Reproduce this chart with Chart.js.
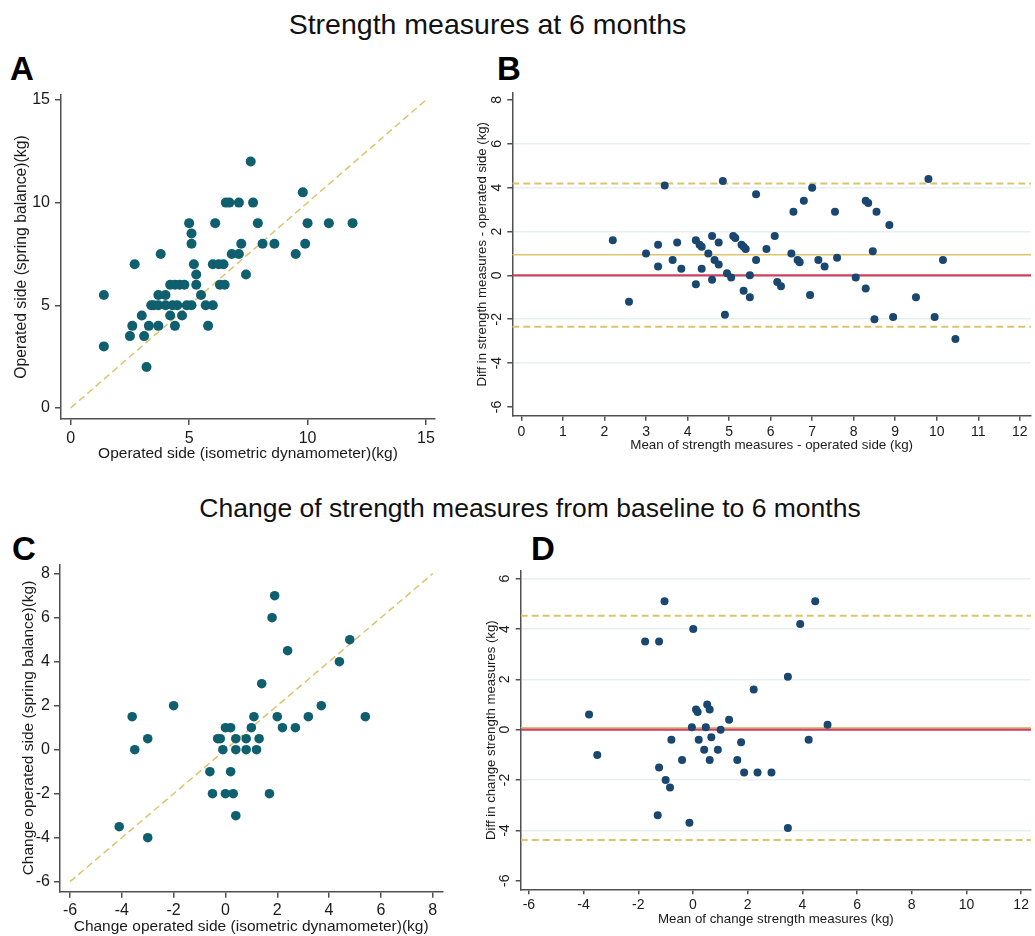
<!DOCTYPE html>
<html>
<head>
<meta charset="utf-8">
<script src="https://cdn.jsdelivr.net/npm/chart.js@4.4.1/dist/chart.umd.min.js"></script>
<style>
  body { margin: 0; background: #fff; width: 1035px; height: 936px; position: relative; overflow: hidden;
         font-family: "Liberation Sans", Arial, sans-serif; }
  canvas { position: absolute; }
  .title { position: absolute; white-space: nowrap; line-height: 1; color: #111; transform: translateX(-50%); }
  .letter { position: absolute; font-weight: bold; line-height: 1; color: #000; font-size: 33px; }
</style>
</head>
<body>
<div class="title" style="left:487.5px; top:10px; font-size:28.5px;">Strength measures at 6 months</div>
<div class="title" style="left:530px; top:495px; font-size:26.5px;">Change of strength measures from baseline to 6 months</div>
<div class="letter" style="left:10px; top:52px;">A</div>
<div class="letter" style="left:497px; top:52px;">B</div>
<div class="letter" style="left:12px; top:532px;">C</div>
<div class="letter" style="left:531px; top:532px;">D</div>

<canvas id="panelA" width="450" height="390" style="left:0px; top:85px;"></canvas>
<canvas id="panelB" width="575" height="390" style="left:460px; top:85px;"></canvas>
<canvas id="panelC" width="460" height="391" style="left:0px; top:545px;"></canvas>
<canvas id="panelD" width="575" height="391" style="left:460px; top:545px;"></canvas>

<script>
// A: operated side, isometric dynamometer (x) vs spring balance (y), kg
const aDyn = [7.6, 9.8, 6.55, 6.7, 7.1, 7.7, 5.0, 6.1, 7.9, 10.0, 10.9, 11.9, 5.1,
  5.1, 7.2, 8.1, 8.6, 9.9, 3.8, 6.8, 7.1, 9.5, 2.7, 5.2, 6.0, 6.25, 6.45, 5.3, 7.4,
  4.2, 4.4, 4.6, 4.8, 5.3, 6.3, 6.5, 1.4, 3.7, 4.0, 5.5,
  3.4, 3.5, 3.7, 4.0, 4.3, 4.5, 4.9, 5.1, 5.7, 6.0,
  3.0, 4.2, 4.7, 2.6, 3.3, 3.7, 4.4, 5.8, 2.5, 3.1, 1.4, 3.2];
const aSpring = [12, 10.5, 10, 10, 10, 10, 9, 9, 9, 9, 9, 9, 8.5,
  8, 8, 8, 8, 8, 7.5, 7.5, 7.5, 7.5, 7, 7, 7, 7, 7, 6.5, 6.5,
  6, 6, 6, 6, 6, 6, 6, 5.5, 5.5, 5.5, 5.5,
  5, 5, 5, 5, 5, 5, 5, 5, 5, 5,
  4.5, 4.5, 4.5, 4, 4, 4, 4, 4, 3.5, 3.5, 3, 2];

// B: Bland-Altman, 6 months
const bMean = [2.20, 2.59, 3.00, 3.29, 3.29, 3.45, 3.64, 3.75, 3.85, 4.20, 4.20, 4.29, 4.34,
  4.34, 4.50, 4.59, 4.59, 4.65, 4.75, 4.75, 4.85, 4.90, 4.95, 5.05, 5.10, 5.15, 5.30,
  5.35, 5.40, 5.35, 5.50, 5.50, 5.65, 5.65, 5.90, 6.10, 6.16, 6.25, 6.50, 6.55, 6.65,
  6.70, 6.80, 6.95, 7.00, 7.15, 7.30, 7.55, 7.60, 8.05, 8.29, 8.35, 8.29, 8.46, 8.50,
  8.55, 8.86, 8.95, 9.50, 9.80, 9.95, 10.15, 10.45];
const bDiff = [1.6, -1.2, 1.0, 1.4, 0.4, 4.1, 0.7, 1.5, 0.3, 1.6, -0.4, 1.4, 1.3,
  0.3, 1.0, 1.8, -0.2, 0.7, 1.5, 0.5, 4.3, -1.8, 0.1, -0.1, 1.8, 1.7, 1.4,
  1.3, 1.2, -0.7, 0.0, -1.0, 3.7, 0.7, 1.2, 1.8, -0.3, -0.5, 1.0, 2.9, 0.7,
  0.6, 3.4, -0.9, 4.0, 0.7, 0.4, 2.9, 0.8, -0.1, 3.4, 3.3, -0.6, 1.1, -2.0,
  2.9, 2.3, -1.9, -1.0, 4.4, -1.9, 0.7, -2.9];
const bLimits = { upper: 4.19, mean: 0.94, lower: -2.34 };

// C: change from baseline to 6 months
const cDyn = [-4.1, -3.6, -3.5, -3.0, -3.0, -2.0, -0.6, -0.5, -0.3, -0.2, -0.1, 0.0, 0.2,
  0.2, 0.0, 0.3, 0.4, 0.4, 0.4, 0.8, 0.8, 1.0, 1.1, 1.3, 1.2, 1.4, 1.7, 1.8, 1.9,
  2.0, 2.2, 2.4, 2.7, 3.2, 3.7, 4.4, 4.8, 5.4];
const cSpring = [-3.5, 1.5, 0, 0.5, -4, 2, -1, -2, 0.5, 0.5, 0, 1, 1,
  -1, -2, -2, -3, 0.5, 0, 0.5, 0, 1, 1.5, 0.5, 0, 3, -2, 6, 7,
  1.5, 1, 4.5, 1, 1.5, 2, 4, 5, 1.5];

// D: Bland-Altman, change
const dMean = [-3.80, -3.50, -1.75, -1.24, -1.04, -1.24, -1.00, -0.84, -1.29, -0.79, -0.40,
  -0.13, -0.04, 0.01, 0.11, 0.17, 0.21, 0.41, 0.47, 0.52, 0.61, 0.67, 0.61, 0.91, 1.01,
  1.32, 1.62, 1.76, 1.87, 2.22, 2.36, 2.87, 3.47, 3.47, 3.92, 4.23, 4.47, 4.92];
const dDiff = [0.6, -1.0, 3.5, 3.5, 5.1, -1.5, -2.0, -2.3, -3.4, -0.4, -1.2,
  -3.7, 0.1, 4.0, 0.8, 0.7, -0.4, -0.8, 0.1, 1.0, 0.8, -0.3, -1.2, -0.8, 0.0,
  0.4, -1.2, -0.5, -1.7, 1.6, -1.7, -1.7, 2.1, -3.9, 4.2, -0.4, 5.1, 0.2];
const dLimits = { upper: 4.53, mean: 0.08, lower: -4.38 };

// tick labels
const ticksA = [0, 5, 10, 15];
const ticksBx = [0, 1, 2, 3, 4, 5, 6, 7, 8, 9, 10, 11, 12];
const ticksBy = [-6, -4, -2, 0, 2, 4, 6, 8];
const ticksC = [-6, -4, -2, 0, 2, 4, 6, 8];
const ticksDx = [-6, -4, -2, 0, 2, 4, 6, 8, 10, 12];
const ticksDy = [-6, -4, -2, 0, 2, 4, 6];

const FONT = '"Liberation Sans", Arial, sans-serif';
const TEAL = '#0f5f6e';
const NAVY = '#1a476f';
const GOLD = '#dcc46c';
const RED = '#cc425c';
const AXIS = '#505050';
const GRID = '#e8eff1';
const TEXT = '#1a1a1a';

const toPoints = (xs, ys) => xs.map((x, i) => ({ x, y: ys[i] }));

function dots(xs, ys, color, r) {
  return { data: toPoints(xs, ys), backgroundColor: color, pointRadius: r, pointHoverRadius: r, pointBorderWidth: 0 };
}

function line(pts, color, width, dash) {
  return { data: pts, showLine: true, borderColor: color, borderWidth: width, borderDash: dash || [],
    pointRadius: 0, fill: false };
}

function hline(v, min, max, color, width, dash) {
  return line([{ x: min, y: v }, { x: max, y: v }], color, width, dash);
}

function axis(a, dir) {
  return {
    type: 'linear',
    position: dir === 'x' ? 'bottom' : 'left',
    min: a.min,
    max: a.max,
    afterBuildTicks: s => { s.ticks = a.ticks.map(v => ({ value: v })); },
    afterFit: s => {
      if (dir === 'x') s.height = a.size; else s.width = a.size;
      s.paddingLeft = 0; s.paddingRight = 0; s.paddingTop = 0; s.paddingBottom = 0;
    },
    border: { display: true, color: AXIS, width: 1.5 },
    grid: {
      drawOnChartArea: !!a.grid,
      drawTicks: true,
      tickLength: a.tickLen,
      color: a.grid ? (c => (c.tick && a.grid.includes(c.tick.value)) ? GRID : 'rgba(0,0,0,0)') : AXIS,
      lineWidth: 1.5,
      tickColor: AXIS,
      tickWidth: 1.5
    },
    ticks: {
      color: TEXT,
      font: { family: FONT, size: a.font },
      padding: a.pad,
      autoSkip: false,
      minRotation: a.rot || 0,
      maxRotation: a.rot || 0,
      crossAlign: a.rot ? 'center' : 'near',
      callback: v => String(v)
    },
    title: {
      display: true,
      text: a.title,
      color: TEXT,
      font: { family: FONT, size: a.titleFont },
      padding: dir === 'x' ? { top: 0, bottom: a.titlePad } : { top: a.titlePad, bottom: 0 }
    }
  };
}

function makePanel(id, p) {
  return new Chart(document.getElementById(id), {
    type: 'scatter',
    data: { datasets: p.datasets },
    options: {
      responsive: false,
      animation: false,
      events: [],
      layout: { padding: { top: p.padTop, right: p.padRight, left: 0, bottom: 0 } },
      plugins: { legend: { display: false }, tooltip: { enabled: false } },
      scales: { x: axis(p.x, 'x'), y: axis(p.y, 'y') }
    }
  });
}

// A
makePanel('panelA', {
  padTop: 10, padRight: 15,
  datasets: [
    dots(aDyn, aSpring, TEAL, 5),
    line([{ x: 0, y: 0 }, { x: 15, y: 15 }], GOLD, 1.5, [7, 4])
  ],
  x: { min: -0.41, max: 15.38, ticks: ticksA, size: 56, tickLen: 6, pad: 3.5, font: 16,
       title: 'Operated side (isometric dynamometer)(kg)', titleFont: 15.5, titlePad: 11.7 },
  y: { min: -0.536, max: 15.24, ticks: ticksA, size: 61, tickLen: 6, pad: 5, font: 16,
       title: 'Operated side (spring balance)(kg)', titleFont: 15.75, titlePad: 12.25 }
});

// B
const bxMin = -0.22, bxMax = 12.27;
makePanel('panelB', {
  padTop: 7.7, padRight: 0,
  datasets: [
    dots(bMean, bDiff, NAVY, 4),
    hline(0, bxMin, bxMax, RED, 2.2),
    hline(bLimits.mean, bxMin, bxMax, GOLD, 1.5),
    hline(bLimits.upper, bxMin, bxMax, GOLD, 2, [7, 4]),
    hline(bLimits.lower, bxMin, bxMax, GOLD, 2, [7, 4])
  ],
  x: { min: bxMin, max: bxMax, ticks: ticksBx, size: 59.3, tickLen: 5, pad: 3.2, font: 14,
       title: 'Mean of strength measures - operated side (kg)', titleFont: 13.4, titlePad: 21.3 },
  y: { min: -6.40, max: 8.33, ticks: ticksBy, size: 52.3, tickLen: 5, pad: 4.4, font: 14, rot: 90,
       grid: [-4, -2, 0, 2, 4, 6],
       title: 'Diff in strength measures - operated side (kg)', titleFont: 13.2, titlePad: 14.8 }
});

// C
makePanel('panelC', {
  padTop: 19.3, padRight: 17.7,
  datasets: [
    dots(cDyn, cSpring, TEAL, 4.8),
    line([{ x: -6, y: -6 }, { x: 8, y: 8 }], GOLD, 1.5, [7, 4])
  ],
  x: { min: -6.386, max: 8.371, ticks: ticksC, size: 44.3, tickLen: 6, pad: 3.5, font: 16,
       title: 'Change operated side (isometric dynamometer)(kg)', titleFont: 15.5, titlePad: 0 },
  y: { min: -6.455, max: 8.427, ticks: ticksC, size: 60, tickLen: 6, pad: 4, font: 16,
       title: 'Change operated side (spring balance)(kg)', titleFont: 15.5, titlePad: 19 }
});

// D
const dxMin = -6.30, dxMax = 12.36;
makePanel('panelD', {
  padTop: 26, padRight: 0,
  datasets: [
    dots(dMean, dDiff, NAVY, 4),
    hline(0, dxMin, dxMax, RED, 2.2),
    hline(dLimits.mean, dxMin, dxMax, GOLD, 1.5),
    hline(dLimits.upper, dxMin, dxMax, GOLD, 2, [7, 4]),
    hline(dLimits.lower, dxMin, dxMax, GOLD, 2, [7, 4])
  ],
  x: { min: dxMin, max: dxMax, ticks: ticksDx, size: 46.7, tickLen: 5, pad: 2.4, font: 14,
       title: 'Mean of change strength measures (kg)', titleFont: 13.3, titlePad: 9 },
  y: { min: -6.34, max: 6.305, ticks: ticksDy, size: 60.7, tickLen: 5, pad: 4.5, font: 14, rot: 90,
       grid: [-4, -2, 0, 2, 4, 6],
       title: 'Diff in change strength measures (kg)', titleFont: 13.2, titlePad: 23.3 }
});
</script>
</body>
</html>
